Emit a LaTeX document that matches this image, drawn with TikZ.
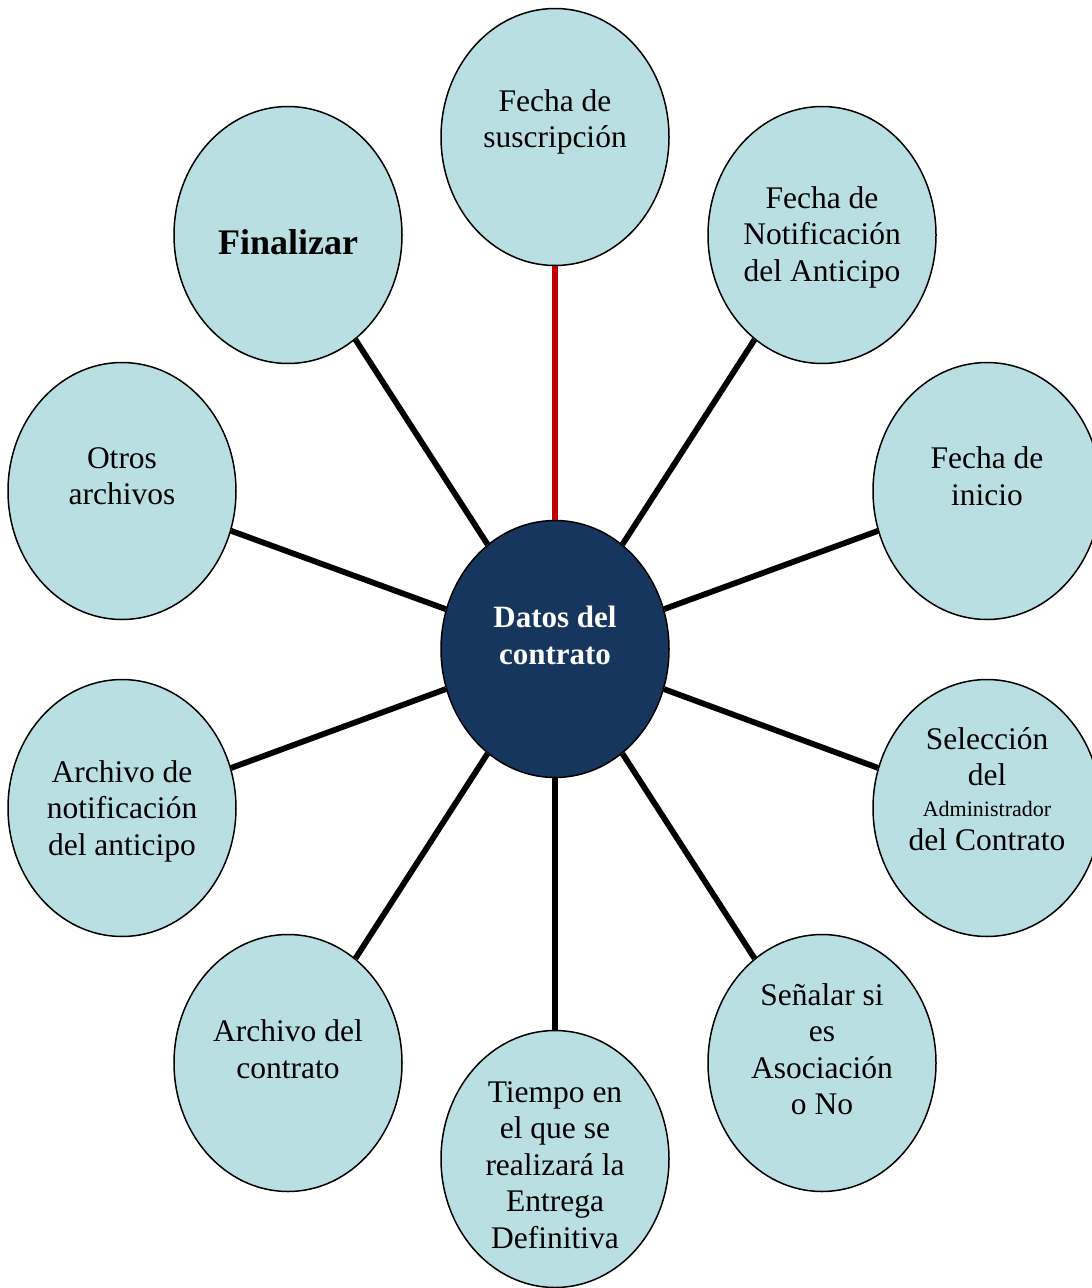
\documentclass[tikz,border=0pt]{standalone}
\usepackage{fontspec}
\setmainfont{Liberation Serif}
\usetikzlibrary{shapes.geometric}
\definecolor{bubble}{HTML}{B9DFE3}
\definecolor{hub}{HTML}{17365D}
\definecolor{redline}{HTML}{C00000}
\begin{document}
\begin{tikzpicture}[x=1pt,y=-1pt,
  ell/.style={ellipse,draw=black,line width=1.5pt,fill=bubble,minimum width=228pt,minimum height=257pt,inner sep=0pt},
  hubell/.style={ell,fill=hub},
  txt/.style={align=center,inner sep=0pt,font=\fontsize{31.5}{36.5}\selectfont},
  conn/.style={line width=5.8pt,black},
  redconn/.style={line width=5.8pt,redline}]
\useasboundingbox (0,0) rectangle (1092,1288);
\clip (0,0) rectangle (1092,1288);
% ellipses
\node[hubell] (c) at (555,649) {};
\node[ell] (n1) at (555,137) {};
\node[ell] (n2) at (822,235) {};
\node[ell] (n3) at (987,491) {};
\node[ell] (n4) at (987,808) {};
\node[ell] (n5) at (822,1063) {};
\node[ell] (n6) at (555,1159) {};
\node[ell] (n7) at (288,1063) {};
\node[ell] (n8) at (122,808) {};
\node[ell] (n9) at (122,491) {};
\node[ell] (n10) at (288,235) {};
% connectors
\draw[redconn] (c) -- (n1);
\foreach \n in {n2,n3,n4,n5,n6,n7,n8,n9,n10} \draw[conn] (c) -- (\n);
% texts
\node[txt,text=white,font=\bfseries\fontsize{31}{37}\selectfont] (tc) at (555,635) {Datos del\\contrato};
\node[txt] (t1) at (555,122) {Fecha de\\suscripción};
\node[txt] (t2) at (822,237) {Fecha de\\Notificación\\del Anticipo};
\node[txt] (t3) at (987,476) {Fecha de\\inicio};
\node[txt] (t4) at (987,789) {Selección\\del\\[-6pt]{\fontsize{22}{26}\selectfont Administrador}\\[-2pt]del Contrato};
\node[txt] (t5) at (822,1049) {Señalar si\\es\\Asociación\\o No};
\node[txt] (t6) at (555,1165) {Tiempo en\\el que se\\realizará la\\Entrega\\Definitiva};
\node[txt] (t7) at (288,1049) {Archivo del\\contrato};
\node[txt] (t8) at (122,811) {Archivo de\\notificación\\del anticipo};
\node[txt] (t9) at (122,476) {Otros\\archivos};
\node[txt,font=\bfseries\fontsize{36}{42}\selectfont] (t10) at (288,242) {Finalizar};
\end{tikzpicture}
\end{document}
